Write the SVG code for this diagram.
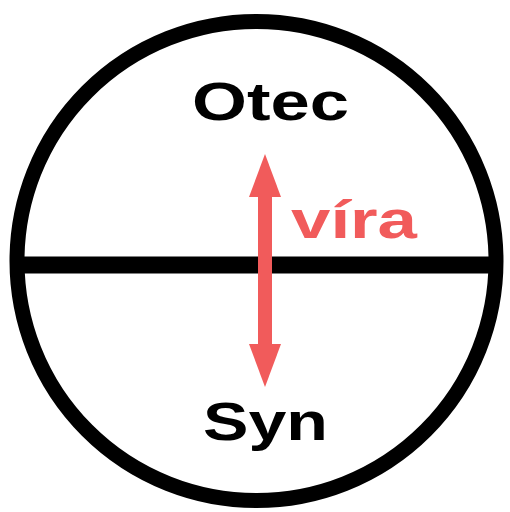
<svg xmlns="http://www.w3.org/2000/svg" width="510" height="512" viewBox="0 0 510 512">
<style>
.lbl{font-family:"Liberation Sans",Arial,sans-serif;font-weight:bold;font-size:54px;fill:#000}
.red{fill:#f15b5b}
</style>
<rect width="510" height="512" fill="#fff"/>
<g id="circle">
<circle cx="256.5" cy="261" r="239.5" fill="none" stroke="#000" stroke-width="15"/>
</g>
<g id="divider">
<line x1="20" y1="265" x2="497" y2="265" stroke="#000" stroke-width="17"/>
</g>
<g id="otec"><text class="lbl" x="192" y="120" textLength="157" lengthAdjust="spacingAndGlyphs">Otec</text></g>
<g id="syn"><text class="lbl" x="203" y="440" textLength="125" lengthAdjust="spacingAndGlyphs">Syn</text></g>
<g id="connectors">
<rect class="red" x="258" y="195" width="14" height="151"/>
<polygon class="red" points="265,154 281,197 249,197"/>
<polygon class="red" points="265,387 281,344 249,344"/>
</g>
<g id="vira"><text class="lbl red" x="291" y="238" textLength="126" lengthAdjust="spacingAndGlyphs">víra</text></g>
</svg>
